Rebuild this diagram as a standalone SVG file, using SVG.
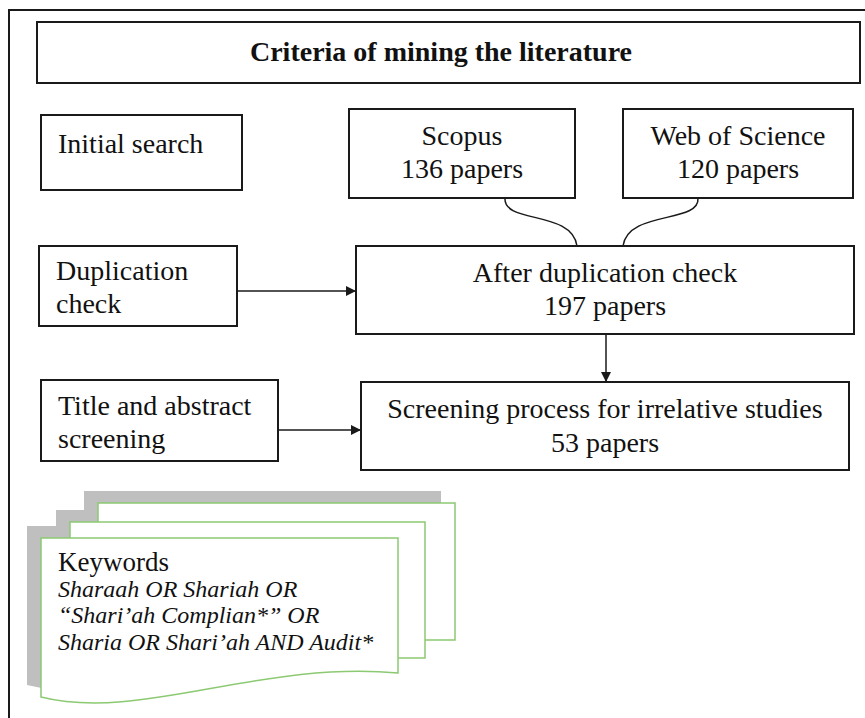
<svg xmlns="http://www.w3.org/2000/svg" width="865" height="718" viewBox="0 0 865 718">
<style>
.box{fill:#fff;stroke:#1a1a1a;stroke-width:2}
.t{font-family:"Liberation Serif","Times New Roman",serif;font-size:28px;fill:#111}
.c{text-anchor:middle}
.b{font-weight:bold}
.doc{fill:#fff;stroke:#8cc972;stroke-width:1.5}
.sh{fill:#bfbfbf}
.ki{font-family:"Liberation Serif","Times New Roman",serif;font-size:24px;font-style:italic;fill:#111}
.conn{fill:none;stroke:#1a1a1a;stroke-width:1.5}
</style>
<defs>
<marker id="ah" viewBox="0 0 10 10" refX="10" refY="5" markerWidth="10" markerHeight="10" markerUnits="userSpaceOnUse" orient="auto">
<path d="M0,0 L10,5 L0,10 z" fill="#1a1a1a"/>
</marker>
<clipPath id="tac"><rect x="41" y="380" width="237" height="80"/></clipPath>
</defs>
<rect x="0" y="0" width="865" height="718" fill="#fff"/>
<rect x="9" y="10" width="900" height="800" fill="none" stroke="#1a1a1a" stroke-width="2"/>

<g id="title">
<rect class="box" x="37" y="22" width="823" height="61"/>
<text class="t c b" x="441" y="61">Criteria of mining the literature</text>
</g>

<g id="initial-search">
<rect class="box" x="41" y="115" width="201" height="75"/>
<text class="t" x="58" y="153">Initial search</text>
</g>

<g id="scopus">
<rect class="box" x="349" y="109" width="226" height="89"/>
<text class="t c" x="462" y="145">Scopus</text>
<text class="t c" x="462" y="178">136 papers</text>
</g>

<g id="wos">
<rect class="box" x="623" y="109" width="230" height="89"/>
<text class="t c" x="738" y="145">Web of Science</text>
<text class="t c" x="738" y="178">120 papers</text>
</g>

<g id="duplication-check">
<rect class="box" x="39" y="246" width="198" height="80"/>
<text class="t" x="56" y="280">Duplication</text>
<text class="t" x="56" y="313">check</text>
</g>

<g id="after-duplication">
<rect class="box" x="356" y="246" width="498" height="88"/>
<text class="t c" x="605" y="282">After duplication check</text>
<text class="t c" x="605" y="315">197 papers</text>
</g>

<g id="title-abstract">
<rect class="box" x="41" y="380" width="237" height="81"/>
<g clip-path="url(#tac)">
<text class="t" x="58" y="415">Title and abstract</text>
<text class="t" x="58" y="448">screening</text>
</g>
</g>

<g id="screening">
<rect class="box" x="361" y="382" width="488" height="88"/>
<text class="t c" x="605" y="418">Screening process for irrelative studies</text>
<text class="t c" x="605" y="452">53 papers</text>
</g>

<g id="keywords">
<rect class="sh" x="84" y="491" width="357" height="137"/>
<rect class="sh" x="56" y="510" width="355" height="136"/>
<path class="sh" d="M27,526 H384 V661 C250,648 130,710 27,685 Z"/>
<rect class="doc" x="98" y="503" width="357" height="137"/>
<rect class="doc" x="70" y="522" width="355" height="136"/>
<path class="doc" d="M41,538 H398 V673 C260,660 140,722 41,697 Z"/>
<text class="t" x="58" y="571" style="font-size:27px">Keywords</text>
<text class="ki" x="58" y="597">Sharaah OR Shariah OR</text>
<text class="ki" x="58" y="623">“Shari’ah Complian*” OR</text>
<text class="ki" x="58" y="650">Sharia OR Shari’ah AND Audit*</text>
</g>

<g id="connectors">
<path class="conn" d="M505,198 C503,224 572,210 577,246"/>
<path class="conn" d="M698,198 C700,224 628,210 623,246"/>
<line class="conn" x1="237" y1="291" x2="356" y2="291" marker-end="url(#ah)"/>
<line class="conn" x1="278" y1="430" x2="361" y2="430" marker-end="url(#ah)"/>
<line class="conn" x1="606" y1="334" x2="606" y2="382" marker-end="url(#ah)"/>
</g>
</svg>
